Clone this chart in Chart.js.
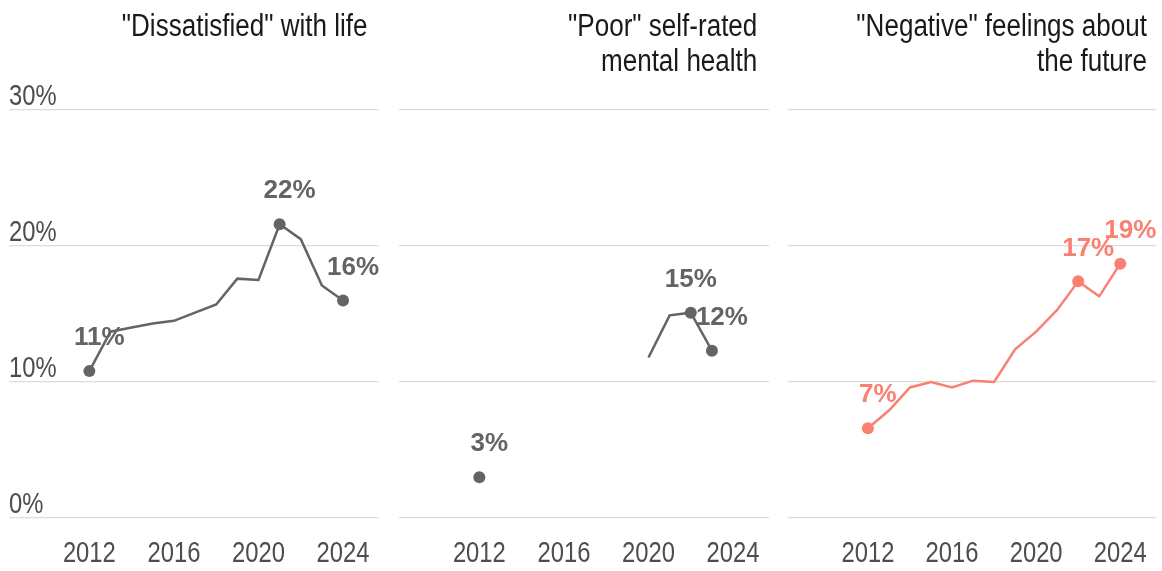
<!DOCTYPE html>
<html>
<head>
<meta charset="utf-8">
<script src="https://cdn.jsdelivr.net/npm/chart.js@4.4.1/dist/chart.umd.min.js"></script>
<style>
    html, body { margin: 0; padding: 0; background: #fff; }
    #wrap { position: relative; width: 1162px; height: 571px; overflow: hidden; }
    .panel { position: absolute; top: 0; height: 571px; }
    .title {
        position: absolute; top: 8px; text-align: right;
        font-family: "Liberation Sans", Arial, sans-serif;
        font-size: 31px; line-height: 35px; color: #1a1a1a; white-space: nowrap;
        transform: scaleX(0.84); transform-origin: right top;
    }
</style>
</head>
<body>
<div id="wrap"></div>
<script>
const years = [2012, 2013, 2014, 2015, 2016, 2017, 2018, 2019, 2020, 2021, 2022, 2023, 2024];
const dissatisfied = [10.8, 13.7, 14.0, 14.3, 14.5, 15.1, 15.7, 17.6, 17.5, 21.6, 20.5, 17.1, 16.0];
const poorHealth = [3.0, null, null, null, null, null, null, null, 11.8, 14.9, 15.1, 12.3, null];
const negativeFuture = [6.6, 7.9, 9.6, 10.0, 9.6, 10.1, 10.0, 12.4, 13.7, 15.3, 17.4, 16.3, 18.7];

const titles = [
    ['"Dissatisfied" with life'],
    ['"Poor" self-rated', 'mental health'],
    ['"Negative" feelings about', 'the future']
];
const yTicks = [0, 10, 20, 30];
const xTicks = [2012, 2016, 2020, 2024];
const labelIdx = [[0, 9, 12], [0, 10, 11], [0, 10, 12]];

const gray = "#646464";
const salmon = "#FA8072";
const squeeze = 0.82;

// layout of each panel: canvas left/width and inner padding
const panels = [
    { left: 0, width: 390, padL: 9, padR: 11, values: dissatisfied, color: gray, yLabels: true },
    { left: 390, width: 390, padL: 9, padR: 11, values: poorHealth, color: gray, yLabels: false },
    { left: 779, width: 383, padL: 9, padR: 3, values: negativeFuture, color: salmon, yLabels: false }
];

const wrap = document.getElementById("wrap");

// narrow text: regular font squeezed horizontally
function narrowText(ctx, text, x, y, align) {
    ctx.save();
    ctx.translate(x, y);
    ctx.scale(squeeze, 1);
    ctx.textAlign = align;
    ctx.fillText(text, 0, 0);
    ctx.restore();
}

const pointLabels = {
    id: "pointLabels",
    afterDatasetsDraw(chart, args, opts) {
        const ctx = chart.ctx;
        const meta = chart.getDatasetMeta(0);
        const vals = chart.data.datasets[0].data;
        ctx.save();
        ctx.font = "bold 26px 'Liberation Sans', Arial, sans-serif";
        ctx.fillStyle = opts.color;
        ctx.textAlign = "center";
        ctx.textBaseline = "middle";
        opts.idx.forEach(i => {
            const el = meta.data[i];
            const v = vals[i].y;
            const dx = (opts.idx === labelIdx[1] && i === 10) ? 0 : 10;
            ctx.fillText(Math.round(v) + "%", el.x + dx, el.y - 33);
        });
        ctx.restore();
    }
};

const axisText = {
    id: "axisText",
    afterDraw(chart, args, opts) {
        const ctx = chart.ctx;
        const x = chart.scales.x;
        const y = chart.scales.y;
        ctx.save();
        ctx.font = "29px 'Liberation Sans', Arial, sans-serif";
        ctx.fillStyle = "#4d4d4d";
        ctx.textBaseline = "alphabetic";
        if (opts.showY) {
            yTicks.forEach(t => {
                narrowText(ctx, t + "%", chart.chartArea.left, y.getPixelForValue(t) - 5, "left");
            });
        }
        xTicks.forEach(t => {
            narrowText(ctx, String(t), x.getPixelForValue(t), chart.chartArea.bottom + 44, "center");
        });
        ctx.restore();
    }
};

panels.forEach((p, n) => {
    const div = document.createElement("div");
    div.className = "panel";
    div.style.left = p.left + "px";
    div.style.width = p.width + "px";
    const canvas = document.createElement("canvas");
    div.appendChild(canvas);
    wrap.appendChild(div);

    const t = document.createElement("div");
    t.className = "title";
    t.style.right = (1162 - (p.left + p.width - p.padR - 12)) + "px";
    t.innerHTML = titles[n].join("<br>");
    wrap.appendChild(t);

    const idx = labelIdx[n];
    new Chart(canvas, {
        type: "line",
        data: {
            datasets: [{
                data: years.map((yr, i) => ({ x: yr, y: p.values[i] })),
                borderColor: p.color,
                backgroundColor: p.color,
                borderWidth: 2.5,
                spanGaps: false,
                tension: 0,
                pointRadius: ctx => idx.includes(ctx.dataIndex) ? 6 : 0,
                pointHoverRadius: 0,
                pointBorderWidth: 0
            }]
        },
        options: {
            responsive: true,
            maintainAspectRatio: false,
            animation: false,
            events: [],
            layout: { padding: { left: p.padL, right: p.padR, top: 110, bottom: 53 } },
            plugins: {
                legend: { display: false },
                tooltip: { enabled: false },
                pointLabels: { idx: idx, color: p.color },
                axisText: { showY: p.yLabels }
            },
            scales: {
                x: {
                    type: "linear",
                    min: 2008.2,
                    max: 2025.7,
                    afterBuildTicks: axis => { axis.ticks = xTicks.map(v => ({ value: v })); },
                    grid: { display: false, drawTicks: false },
                    border: { display: false },
                    ticks: { display: false }
                },
                y: {
                    min: 0,
                    max: 30,
                    afterBuildTicks: axis => { axis.ticks = yTicks.map(v => ({ value: v })); },
                    grid: { color: "#dcdcdc", lineWidth: 1.3, drawTicks: false },
                    border: { display: false },
                    ticks: { display: false }
                }
            }
        },
        plugins: [pointLabels, axisText]
    });
});
</script>
</body>
</html>
